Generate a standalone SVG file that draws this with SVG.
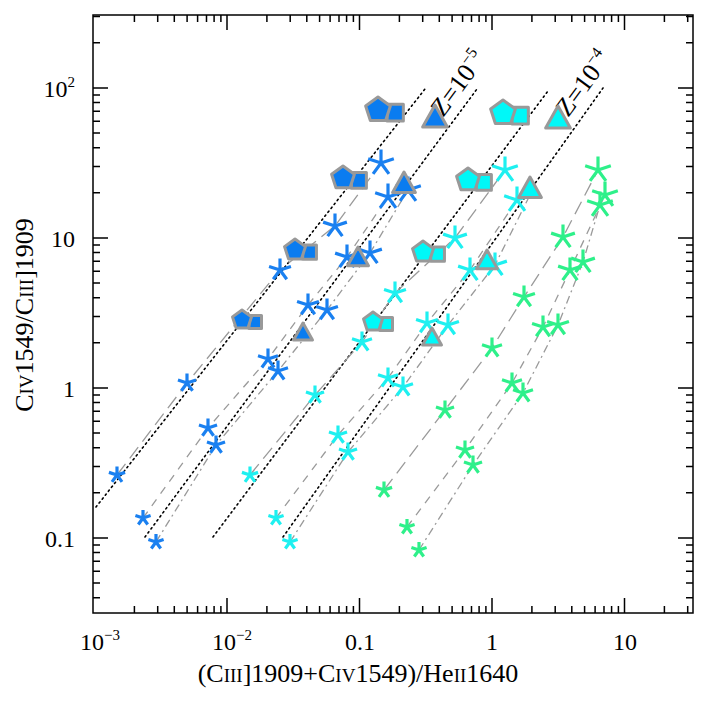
<svg xmlns="http://www.w3.org/2000/svg" xmlns:xlink="http://www.w3.org/1999/xlink" width="706" height="706" viewBox="0 0 706 706">
<style>
.ax{fill:none;stroke:#000;stroke-width:1.5}
.t{font-family:"Liberation Serif","DejaVu Serif",serif;fill:#000}
.dot{fill:none;stroke:#000;stroke-width:1.6;stroke-dasharray:1.5 3.5;stroke-linecap:round}
.ld{fill:none;stroke:#9a9a9a;stroke-width:1.3;stroke-dasharray:14 7}
.md{fill:none;stroke:#9a9a9a;stroke-width:1.3;stroke-dasharray:8 7}
.dd{fill:none;stroke:#9a9a9a;stroke-width:1.3;stroke-dasharray:8 4 2 4}
.b{color:#1a80f0}.c{color:#1ef0f0}.g{color:#2ef08a}
.sh{stroke:#999;stroke-width:3;stroke-linejoin:round}
</style>
<defs>
<path id="ast" d="M0,0L0,-1M0,0L0.951,-0.309M0,0L0.588,0.809M0,0L-0.588,0.809M0,0L-0.951,-0.309" fill="none" stroke="currentColor" stroke-width="3.2" vector-effect="non-scaling-stroke"/>
<path id="pen" d="M0,-1L0.951,-0.309L0.588,0.809L-0.588,0.809L-0.951,-0.309Z" vector-effect="non-scaling-stroke"/>
<path id="sq" d="M0.7,-0.45H1.95V0.85H0.7Z" vector-effect="non-scaling-stroke"/>
<path id="tri" d="M0,-1L0.95,0.7H-0.95Z" vector-effect="non-scaling-stroke"/>
</defs>
<g id="axes">
<rect x="93" y="15" width="600" height="598" class="ax"/>
<path class="ax" d="M93,88h15M93,238h15M93,388h15M93,538h15M693,88h-15M693,238h-15M693,388h-15M693,538h-15
M93,597.7h7M93,583.1h7M93,571.3h7M93,561.2h7M93,552.5h7M93,544.9h7
M93,492.8h7M93,466.4h7M93,447.7h7M93,433.1h7M93,421.3h7M93,411.2h7M93,402.5h7M93,394.9h7
M93,342.8h7M93,316.4h7M93,297.7h7M93,283.1h7M93,271.3h7M93,261.2h7M93,252.5h7M93,244.9h7
M93,192.8h7M93,166.4h7M93,147.7h7M93,133.1h7M93,121.3h7M93,111.2h7M93,102.5h7M93,94.9h7
M93,42.8h7M93,16.4h7
M693,597.7h-7M693,583.1h-7M693,571.3h-7M693,561.2h-7M693,552.5h-7M693,544.9h-7
M693,492.8h-7M693,466.4h-7M693,447.7h-7M693,433.1h-7M693,421.3h-7M693,411.2h-7M693,402.5h-7M693,394.9h-7
M693,342.8h-7M693,316.4h-7M693,297.7h-7M693,283.1h-7M693,271.3h-7M693,261.2h-7M693,252.5h-7M693,244.9h-7
M693,192.8h-7M693,166.4h-7M693,147.7h-7M693,133.1h-7M693,121.3h-7M693,111.2h-7M693,102.5h-7M693,94.9h-7
M693,42.8h-7M693,16.4h-7
M227,613v-15M359.5,613v-15M492,613v-15M624.5,613v-15M227,15v15M359.5,15v15M492,15v15M624.5,15v15
M134.4,613v-7M157.7,613v-7M174.3,613v-7M187.1,613v-7M197.6,613v-7M206.5,613v-7M214.1,613v-7M220.9,613v-7
M266.9,613v-7M290.2,613v-7M306.8,613v-7M319.6,613v-7M330.1,613v-7M339,613v-7M346.6,613v-7M353.4,613v-7
M399.4,613v-7M422.7,613v-7M439.3,613v-7M452.1,613v-7M462.6,613v-7M471.5,613v-7M479.1,613v-7M485.9,613v-7
M531.9,613v-7M555.2,613v-7M571.8,613v-7M584.6,613v-7M595.1,613v-7M604,613v-7M611.6,613v-7M618.4,613v-7
M664.4,613v-7M687.7,613v-7
M134.4,15v7M157.7,15v7M174.3,15v7M187.1,15v7M197.6,15v7M206.5,15v7M214.1,15v7M220.9,15v7
M266.9,15v7M290.2,15v7M306.8,15v7M319.6,15v7M330.1,15v7M339,15v7M346.6,15v7M353.4,15v7
M399.4,15v7M422.7,15v7M439.3,15v7M452.1,15v7M462.6,15v7M471.5,15v7M479.1,15v7M485.9,15v7
M531.9,15v7M555.2,15v7M571.8,15v7M584.6,15v7M595.1,15v7M604,15v7M611.6,15v7M618.4,15v7
M664.4,15v7M687.7,15v7"/>
<text class="t" x="100" y="650" font-size="24" text-anchor="middle">10<tspan font-size="15" dy="-10">−3</tspan></text>
<text class="t" x="232" y="650" font-size="24" text-anchor="middle">10<tspan font-size="15" dy="-10">−2</tspan></text>
<text class="t" x="360" y="650" font-size="24" text-anchor="middle">0.1</text>
<text class="t" x="492" y="650" font-size="24" text-anchor="middle">1</text>
<text class="t" x="625" y="650" font-size="24" text-anchor="middle">10</text>
<text class="t" x="75" y="97" font-size="24" text-anchor="end">10<tspan font-size="15" dy="-10">2</tspan></text>
<text class="t" x="75" y="247" font-size="24" text-anchor="end">10</text>
<text class="t" x="75" y="397" font-size="24" text-anchor="end">1</text>
<text class="t" x="75" y="547" font-size="24" text-anchor="end">0.1</text>
<text class="t" x="358" y="682" font-size="26" text-anchor="middle">(C<tspan font-size="19">III</tspan>]1909+C<tspan font-size="19">IV</tspan>1549)/He<tspan font-size="19">II</tspan>1640</text>
<text class="t" font-size="26" text-anchor="middle" transform="translate(33,315) rotate(-90)">C<tspan font-size="19">IV</tspan>1549/C<tspan font-size="19">III</tspan>]1909</text>
</g>
<g id="connectors">
<path class="dot" d="M96,507L425,89M145,537L477,89M213,537L548,91M283,537L603,88"/>
<path class="ld" d="M117,475L187,383L280,270L335,226L381,163"/>
<path class="md" d="M143,518L208,428L268,359L308,305L347,257L388,197"/>
<path class="dd" d="M156,542L216,445L278,371L327,310L370,253L408,190"/>
<path class="ld" d="M250,475L315,395L362,342L395,293L455,238L505,170"/>
<path class="md" d="M276,518L338,435L388,378L427,323L470,270L517,200"/>
<path class="dd" d="M290,542L348,452L403,387L448,325L495,265L530,195"/>
<path class="ld" d="M384,490L445,410L492,348L524,297L563,237L598,170"/>
<path class="md" d="M407,527L465,450L512,383L543,327L570,270L605,195"/>
<path class="dd" d="M419,550L473,465L523,393L558,325L583,262L600,205"/>
</g>
<g id="labels">
<text class="t" font-size="26" transform="translate(443,118) rotate(-53.5)">Z=10<tspan font-size="16" dy="-11">−5</tspan></text>
<text class="t" font-size="26" transform="translate(568,118) rotate(-53.5)">Z=10<tspan font-size="16" dy="-11">−4</tspan></text>
</g>
<g id="blue-stars" class="b">
<use href="#ast" transform="translate(117,475) scale(8.5)"/>
<use href="#ast" transform="translate(143,518) scale(8)"/>
<use href="#ast" transform="translate(156,542) scale(8)"/>
<use href="#ast" transform="translate(187,383) scale(9.5)"/>
<use href="#ast" transform="translate(208,428) scale(9.5)"/>
<use href="#ast" transform="translate(216,445) scale(9.5)"/>
<use href="#ast" transform="translate(268,359) scale(10.5)"/>
<use href="#ast" transform="translate(278,371) scale(10.5)"/>
<use href="#ast" transform="translate(280,270) scale(11.5)"/>
<use href="#ast" transform="translate(308,305) scale(11.5)"/>
<use href="#ast" transform="translate(327,310) scale(11.5)"/>
<use href="#ast" transform="translate(335,226) scale(12.5)"/>
<use href="#ast" transform="translate(347,257) scale(12.5)"/>
<use href="#ast" transform="translate(370,253) scale(12.5)"/>
<use href="#ast" transform="translate(381,163) scale(13.5)"/>
<use href="#ast" transform="translate(388,197) scale(13.5)"/>
<use href="#ast" transform="translate(408,190) scale(13.5)"/>
</g>
<g id="cyan-stars" class="c">
<use href="#ast" transform="translate(250,475) scale(8.5)"/>
<use href="#ast" transform="translate(276,518) scale(8)"/>
<use href="#ast" transform="translate(290,542) scale(8)"/>
<use href="#ast" transform="translate(315,395) scale(9.5)"/>
<use href="#ast" transform="translate(338,435) scale(9.5)"/>
<use href="#ast" transform="translate(348,452) scale(9.5)"/>
<use href="#ast" transform="translate(362,342) scale(10.5)"/>
<use href="#ast" transform="translate(388,378) scale(10.5)"/>
<use href="#ast" transform="translate(403,387) scale(10.5)"/>
<use href="#ast" transform="translate(395,293) scale(11.5)"/>
<use href="#ast" transform="translate(427,323) scale(11.5)"/>
<use href="#ast" transform="translate(448,325) scale(11.5)"/>
<use href="#ast" transform="translate(455,238) scale(12.5)"/>
<use href="#ast" transform="translate(470,270) scale(12.5)"/>
<use href="#ast" transform="translate(495,265) scale(12.5)"/>
<use href="#ast" transform="translate(505,170) scale(13.5)"/>
<use href="#ast" transform="translate(517,200) scale(13.5)"/>
</g>
<g id="green-stars" class="g">
<use href="#ast" transform="translate(384,490) scale(8.5)"/>
<use href="#ast" transform="translate(407,527) scale(8)"/>
<use href="#ast" transform="translate(419,550) scale(8)"/>
<use href="#ast" transform="translate(445,410) scale(9.5)"/>
<use href="#ast" transform="translate(465,450) scale(9.5)"/>
<use href="#ast" transform="translate(473,465) scale(9.5)"/>
<use href="#ast" transform="translate(492,348) scale(10.5)"/>
<use href="#ast" transform="translate(512,383) scale(10.5)"/>
<use href="#ast" transform="translate(523,393) scale(10.5)"/>
<use href="#ast" transform="translate(524,297) scale(11.5)"/>
<use href="#ast" transform="translate(543,327) scale(11.5)"/>
<use href="#ast" transform="translate(558,325) scale(11.5)"/>
<use href="#ast" transform="translate(563,237) scale(12.5)"/>
<use href="#ast" transform="translate(570,270) scale(12.5)"/>
<use href="#ast" transform="translate(583,262) scale(12.5)"/>
<use href="#ast" transform="translate(598,170) scale(13.5)"/>
<use href="#ast" transform="translate(605,195) scale(13.5)"/>
<use href="#ast" transform="translate(600,205) scale(13.5)"/>
</g>
<g id="blue-shapes" class="sh" fill="#0a7cf0">
<use href="#sq" transform="translate(242,320) scale(10)"/><use href="#pen" transform="translate(242,320) scale(10)"/>
<use href="#sq" transform="translate(295,250) scale(11)"/><use href="#pen" transform="translate(295,250) scale(11)"/>
<use href="#sq" transform="translate(343,178) scale(12)"/><use href="#pen" transform="translate(343,178) scale(12)"/>
<use href="#sq" transform="translate(378,110) scale(13)"/><use href="#pen" transform="translate(378,110) scale(13)"/>
<use href="#tri" transform="translate(303,333) scale(10)"/>
<use href="#tri" transform="translate(358,258) scale(11)"/>
<use href="#tri" transform="translate(404,184) scale(12)"/>
<use href="#tri" transform="translate(435,118) scale(13)"/>
</g>
<g id="cyan-shapes" class="sh" fill="#00f8f8">
<use href="#sq" transform="translate(373,322) scale(10)"/><use href="#pen" transform="translate(373,322) scale(10)"/>
<use href="#sq" transform="translate(423,252) scale(11)"/><use href="#pen" transform="translate(423,252) scale(11)"/>
<use href="#sq" transform="translate(468,180) scale(12)"/><use href="#pen" transform="translate(468,180) scale(12)"/>
<use href="#sq" transform="translate(503,113) scale(13)"/><use href="#pen" transform="translate(503,113) scale(13)"/>
<use href="#tri" transform="translate(432,338) scale(10)"/>
<use href="#tri" transform="translate(487,261) scale(11)"/>
<use href="#tri" transform="translate(530,189) scale(12)"/>
<use href="#tri" transform="translate(558,119) scale(13)"/>
</g>
</svg>
